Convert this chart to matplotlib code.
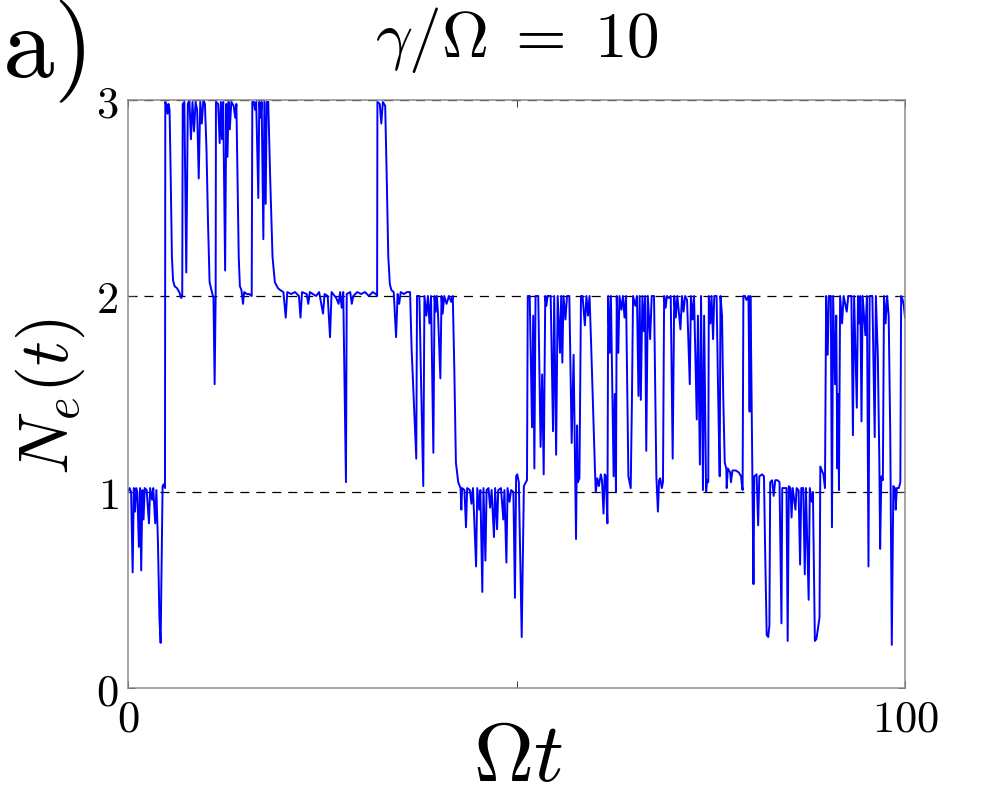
import numpy as np
import matplotlib.pyplot as plt

plt.rcParams['mathtext.fontset'] = 'cm'
plt.rcParams['lines.scale_dashes'] = False

# Trajektoria N_e(t), podzielona na odcinki czasu
t_1 = [0, 0.2, 0.4, 0.6, 0.75, 0.9, 1.05, 1.2, 1.4, 1.55, 1.7, 1.85, 2.0, 2.15, 2.4, 2.7, 2.85,
       3.1, 3.25, 3.5, 3.65, 3.85, 4.05, 4.2, 4.35, 4.45, 4.6, 4.76]
n_1 = [1.0, 1.02, 1.0, 0.59, 1.02, 0.90, 1.02, 1.0, 0.72, 1.02, 0.60, 1.01, 0.86, 1.02, 1.01, 0.84, 1.02,
       0.96, 1.02, 0.84, 1.01, 0.75, 0.35, 0.23, 0.7, 1.03, 1.04, 1.02]

t_2 = [4.8, 5.0, 5.1, 5.2, 5.35, 5.5, 5.65, 5.8, 6.0, 6.3, 6.6, 6.85, 6.98,
       7.04, 7.25, 7.5, 7.7, 7.9, 8.1, 8.3, 8.5, 8.7, 8.9, 9.1, 9.3, 9.5, 9.7, 9.9, 10.1, 10.3, 10.5,
       10.8, 11.0, 11.15, 11.28]
n_2 = [2.99, 2.97, 2.93, 2.98, 2.95, 2.6, 2.2, 2.08, 2.05, 2.04, 2.02, 1.99, 2.0,
       2.98, 2.99, 2.12, 2.98, 3.0, 2.80, 2.99, 2.84, 2.99, 2.95, 2.60, 2.99, 2.88, 3.0, 2.98, 2.75, 2.37, 2.07,
       2.02, 1.99, 1.55, 2.0]

t_3 = [11.32, 11.6, 11.8, 11.95, 12.1, 12.25, 12.5, 12.65, 12.8, 12.95, 13.1, 13.3, 13.6, 13.8, 13.95,
       14.1, 14.25, 14.4, 14.6, 14.8, 14.95, 15.3, 15.6, 15.92,
       16.0, 16.2, 16.35, 16.5, 16.77, 16.9, 17.08, 17.2, 17.42, 17.55, 17.72, 17.85, 18.05, 18.3, 18.6, 18.9]
n_3 = [2.99, 2.98, 2.78, 2.99, 2.80, 2.99, 2.13, 2.98, 2.71, 2.99, 2.85, 2.99, 2.97, 2.91, 2.98,
       2.6, 2.2, 2.05, 2.03, 1.96, 2.02, 2.01, 2.01, 2.0,
       2.99, 2.99, 2.95, 2.99, 2.50, 2.99, 2.91, 2.99, 2.29, 2.99, 2.47, 2.99, 2.99, 2.6, 2.2, 2.07]

t_4 = [19.3, 19.6, 20.0, 20.3, 20.5, 21.0, 21.5, 22.0, 22.2, 22.4, 23.0, 23.2, 23.4, 24.2, 24.6, 25.1, 25.3,
       25.7, 26.0, 26.2, 26.8, 27.1, 27.3, 27.5, 27.7, 28.05, 28.15, 28.6, 28.8, 29.0, 29.5, 30.0, 30.5,
       31.0, 31.5, 31.9, 32.06]
n_4 = [2.04, 2.03, 2.02, 1.89, 2.02, 2.01, 2.02, 2.0, 1.89, 2.02, 2.01, 1.96, 2.02, 2.0, 2.02, 1.91, 2.01,
       2.0, 1.79, 2.02, 1.99, 1.96, 2.02, 1.94, 2.02, 1.05, 2.01, 2.02, 1.96, 2.0, 2.02, 2.01, 2.02,
       2.0, 2.02, 2.01, 2.0]

t_5 = [32.1, 32.4, 32.6, 32.8, 33.1, 33.3, 33.5, 33.7, 33.9, 34.2, 34.5, 34.7, 34.9, 35.1, 35.5, 35.9, 36.3,
       36.5, 36.8, 37.1, 37.2, 37.5, 37.7, 38.0, 38.15, 38.4, 38.6, 38.8, 39.0, 39.3, 39.45, 39.6, 39.75,
       39.9, 40.2, 40.35, 40.5, 40.7, 41.0, 41.3, 41.6, 41.8]
n_5 = [2.99, 2.98, 2.88, 2.99, 2.97, 2.6, 2.2, 2.06, 2.03, 2.02, 1.79, 2.01, 1.96, 2.02, 2.01, 2.02, 2.02,
       1.73, 1.45, 1.17, 2.0, 2.0, 1.6, 1.03, 2.0, 1.90, 2.0, 1.86, 2.0, 1.20, 2.0, 1.92, 2.0,
       1.91, 1.58, 2.0, 1.91, 2.0, 1.96, 2.0, 1.97, 2.0]

t_6 = [42.0, 42.2, 42.5, 42.8, 42.9, 43.0, 43.3, 43.5, 43.65, 44.0, 44.2, 44.4, 44.8, 44.95, 45.2, 45.35,
       45.6, 45.75, 46.0, 46.15, 46.4, 46.6, 46.8, 47.1, 47.25, 47.5, 47.65, 48.0, 48.3, 48.45, 48.7, 48.85,
       49.1, 49.3, 49.6, 49.8, 49.95, 50.1, 50.3, 50.67, 50.95, 51.2, 51.35]
n_6 = [1.62, 1.15, 1.05, 1.02, 0.91, 1.02, 1.01, 0.82, 1.02, 1.01, 0.94, 1.02, 0.62, 1.02, 0.91, 1.01,
       0.49, 1.02, 0.65, 1.01, 1.02, 0.92, 1.01, 0.77, 1.02, 0.81, 1.01, 1.02, 0.86, 1.01, 0.64, 1.02,
       0.95, 1.01, 1.0, 0.46, 1.08, 1.09, 1.05, 0.26, 1.03, 1.05, 1.06]

t_7 = [51.45, 51.7, 52.0, 52.15, 52.3, 52.45, 52.8, 53.1, 53.3, 53.5, 53.7, 53.85, 54.0, 54.4, 54.7, 54.85,
       55.1, 55.3, 55.6, 55.75, 55.9, 56.05, 56.3, 56.5, 56.8, 57.1, 57.35, 57.66, 57.8, 57.9, 58.1, 58.3,
       58.5, 58.8, 59.0, 59.2, 59.4, 59.6, 59.8, 60.1, 60.2, 60.4, 60.6, 60.85, 61.0, 61.2, 61.35, 61.5,
       61.7]
n_7 = [2.0, 2.0, 1.33, 1.9, 1.12, 2.0, 2.0, 1.23, 1.6, 1.09, 2.0, 1.95, 2.0, 2.0, 1.31, 2.0,
       1.19, 2.0, 1.71, 2.0, 1.66, 2.0, 1.88, 2.0, 2.0, 1.25, 1.7, 0.76, 1.34, 1.05, 1.07, 2.0,
       2.0, 1.85, 2.0, 1.9, 2.0, 1.76, 1.5, 1.11, 1.0, 1.07, 1.03, 1.09, 1.06, 0.89, 1.09, 1.08,
       0.84]

t_8 = [61.8, 62.0, 62.15, 62.5, 62.65, 62.8, 62.9, 63.1, 63.25, 63.5, 63.7, 63.9, 64.1, 64.4, 64.7, 64.85,
       65.0, 65.3, 65.5, 65.7, 65.85, 66.0, 66.2, 66.4, 66.55, 66.7, 66.9, 67.2, 67.4, 67.7, 68.0, 68.2,
       68.35, 68.5, 68.7, 68.85]
n_8 = [2.0, 1.71, 2.0, 1.08, 1.5, 1.0, 2.0, 1.71, 2.0, 1.93, 2.0, 1.89, 2.0, 1.08, 1.02, 1.45,
       2.0, 1.95, 2.0, 1.49, 2.0, 1.47, 2.0, 1.82, 2.0, 1.21, 2.0, 1.78, 2.0, 2.0, 1.08, 0.90,
       1.06, 1.07, 1.02, 1.05]

t_9 = [69.0, 69.2, 69.35, 69.6, 69.85, 70.1, 70.3, 70.5, 70.7, 71.1, 71.3, 71.5, 71.7, 71.95, 72.3, 72.45,
       72.65, 72.85, 73.2, 73.35, 73.6, 73.75, 74.0, 74.15, 74.4, 74.55, 74.68]
n_9 = [2.0, 1.94, 2.0, 1.99, 2.0, 1.17, 2.0, 1.89, 2.0, 1.83, 2.0, 1.92, 2.0, 1.98, 1.55, 2.0,
       1.88, 2.0, 1.37, 1.9, 1.14, 2.0, 1.01, 1.9, 1.0, 1.06, 1.05]

t_10 = [74.75, 74.95, 75.1, 75.3, 75.45, 75.75, 75.95, 76.15, 76.25, 76.45, 76.6, 76.8, 77.0, 77.05, 77.2,
        77.5, 77.6, 77.8, 78.2, 78.6, 78.9, 79.0, 79.1, 79.2, 79.4, 79.6, 79.85, 80.0, 80.1, 80.2, 80.35,
        80.5, 80.6, 80.9, 81.1, 81.25, 81.6, 81.85, 82.0, 82.2, 82.4, 82.55]
n_10 = [2.0, 1.86, 2.0, 1.78, 2.0, 2.0, 1.5, 1.08, 2.0, 1.9, 1.5, 1.15, 1.12, 1.02, 1.12,
        1.1, 1.05, 1.11, 1.11, 1.10, 1.08, 1.04, 1.01, 2.0, 2.0, 1.98, 2.0, 1.41, 2.0, 1.7, 1.09,
        0.53, 1.08, 1.09, 0.83, 1.08, 1.09, 1.08, 0.7, 0.27, 0.26, 0.32]

t_11 = [82.65, 82.9, 83.1, 83.3, 83.6, 83.85, 84.1, 84.2, 84.5, 84.75, 84.9, 85.05, 85.25, 85.4, 85.55,
        85.9, 86.05, 86.3, 86.5, 86.65, 86.9, 87.1, 87.25, 87.6, 87.75, 88.0, 88.15, 88.4, 88.6, 89.0,
        89.1, 89.3, 89.5, 89.7]
n_11 = [1.05, 1.06, 0.98, 1.06, 1.06, 1.05, 0.33, 1.02, 1.02, 1.02, 0.24, 1.03, 1.02, 0.87, 1.02,
        0.91, 1.02, 1.01, 0.63, 1.02, 1.02, 0.58, 1.02, 0.45, 1.02, 0.95, 1.0, 0.24, 0.25, 0.36,
        1.13, 1.11, 1.09, 1.02]

t_12 = [89.85, 90.05, 90.2, 90.45, 90.6, 90.75, 91.0, 91.15, 91.3, 91.4, 91.5, 91.65, 91.9, 92.1, 92.5,
        92.7, 93.1, 93.3, 93.45, 93.8, 93.95, 94.1, 94.25, 94.4, 94.55, 94.9, 95.1, 95.3, 95.45, 95.8,
        96.1, 96.25, 96.5, 96.7, 96.8, 96.95, 97.15, 97.3, 97.5, 97.7, 97.9, 98.1, 98.3, 98.5, 98.7,
        98.8, 98.95, 99.2, 99.4, 99.5, 99.7, 99.85, 100.0]
n_12 = [2.0, 1.7, 2.0, 2.0, 0.82, 2.0, 1.55, 1.9, 1.12, 1.5, 1.01, 2.0, 1.86, 2.0, 1.92,
        2.0, 2.0, 1.29, 2.0, 1.43, 2.0, 1.86, 2.0, 1.36, 2.0, 1.8, 2.0, 0.62, 2.0, 2.0,
        1.28, 2.0, 1.7, 1.15, 0.71, 1.08, 1.06, 2.0, 1.86, 2.0, 1.9, 1.3, 0.22, 1.03, 1.02,
        0.91, 1.02, 1.02, 1.05, 2.0, 1.98, 1.95, 1.89]

t = np.concatenate([t_1, t_2, t_3, t_4, t_5, t_6, t_7, t_8, t_9, t_10, t_11, t_12])
n_e = np.concatenate([n_1, n_2, n_3, n_4, n_5, n_6, n_7, n_8, n_9, n_10, n_11, n_12])

poziomy = [1, 2, 3]
x_ticks = [0, 50, 100]
x_labels = ['$0$', '', '$100$']
y_ticks = [0, 1, 2, 3]
y_labels = ['$0$', '$1$', '$2$', '$3$']

fig = plt.figure(figsize=(10, 8), dpi=100)
ax = fig.add_axes([0.128, 0.14, 0.777, 0.735])

for p in poziomy:
    ax.axhline(p, color='k', lw=0.9, dashes=(6.5, 5), zorder=1)
ax.plot(t, n_e, color='#0000ff', lw=1.4, zorder=2)

ax.set_xlim(0, 100)
ax.set_ylim(0, 3)
ax.set_xticks(x_ticks)
ax.set_xticklabels(x_labels)
ax.set_yticks(y_ticks)
ax.set_yticklabels(y_labels)
ax.tick_params(direction='in', top=True, right=True, length=5, width=0.7,
               color='#333333', labelsize=32, pad=7)
for s in ax.spines.values():
    s.set_color('#8a8a8a')
    s.set_linewidth(1.1)

fig.text(0.517, 1 - 57 / 800, r'$\gamma/\Omega\;=\;10$', fontsize=47, ha='center', va='baseline')
fig.text(0.518, 0.003, r'$\Omega t$', fontsize=60, ha='center', va='bottom')
fig.text(0.068, 1 - 397 / 800, r'$N_e(t)$', fontsize=50, rotation=90, rotation_mode='anchor',
         ha='center', va='baseline')
fig.text(0.002, 1 - 77 / 800, r'$\mathrm{a)}$', fontsize=74, ha='left', va='baseline')

fig.savefig('out.png', dpi=100)
